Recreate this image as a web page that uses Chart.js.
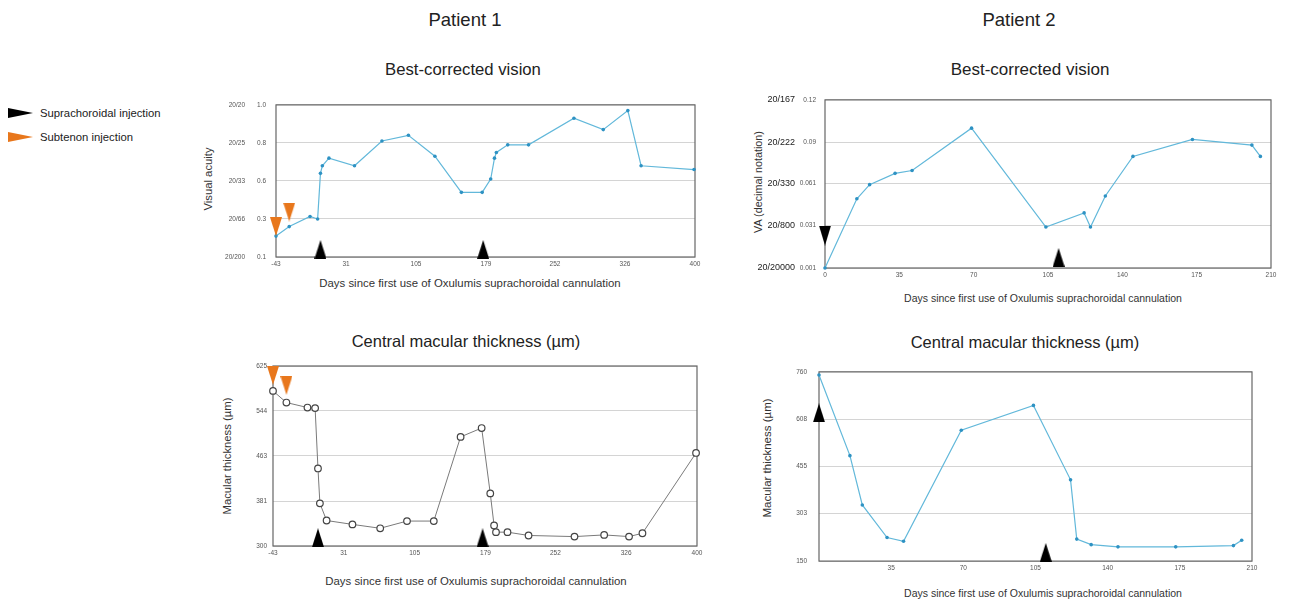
<!DOCTYPE html>
<html lang="en">
<head>
<meta charset="UTF-8">
<title>Visual acuity and macular thickness after suprachoroidal injection</title>
<script src="https://cdn.jsdelivr.net/npm/chart.js"></script>
<style>
  body { margin: 0; background: #fff; font-family: "Liberation Sans", Arial, sans-serif; color: #222; }
  #page { position: relative; width: 1303px; height: 603px; overflow: hidden; }
  .txt { position: absolute; white-space: nowrap; transform: translate(-50%, -50%); }
  .ytitle { position: absolute; white-space: nowrap; transform: translate(-50%, -50%) rotate(-90deg); }
  .legtri { position: absolute; width: 0; height: 0; border-top: 5.5px solid transparent; border-bottom: 5.5px solid transparent; }
  canvas { position: absolute; }
</style>
</head>
<body>
<div id="page">
  <div class="txt" style="left:465px;top:20px;font-size:18.5px">Patient 1</div>
  <div class="txt" style="left:1019px;top:20px;font-size:18.5px">Patient 2</div>

  <div class="txt" style="left:463px;top:70px;font-size:16.7px">Best-corrected vision</div>
  <div class="txt" style="left:1030px;top:70px;font-size:17px">Best-corrected vision</div>
  <div class="txt" style="left:466px;top:341px;font-size:16.5px">Central macular thickness (µm)</div>
  <div class="txt" style="left:1025px;top:342px;font-size:16.5px">Central macular thickness (µm)</div>

  <div class="legtri" style="left:8px;top:108px;border-left:25px solid #000"></div>
  <div class="txt" style="left:40px;top:113px;font-size:11.3px;transform:translateY(-50%)">Suprachoroidal injection</div>
  <div class="legtri" style="left:8px;top:132px;border-left:25px solid #e8771c"></div>
  <div class="txt" style="left:40px;top:137px;font-size:11.3px;transform:translateY(-50%)">Subtenon injection</div>

  <div class="ytitle" style="left:208px;top:179px;font-size:11.3px;color:#333">Visual acuity</div>
  <div class="ytitle" style="left:758px;top:182px;font-size:10.8px;color:#333">VA (decimal notation)</div>
  <div class="ytitle" style="left:227px;top:456px;font-size:11.3px;color:#333">Macular thickness (µm)</div>
  <div class="ytitle" style="left:767px;top:458px;font-size:11.5px;color:#333">Macular thickness (µm)</div>

  <div class="txt" style="left:470px;top:283px;font-size:11.4px;color:#333">Days since first use of Oxulumis suprachoroidal cannulation</div>
  <div class="txt" style="left:1043px;top:298px;font-size:10.5px;color:#333">Days since first use of Oxulumis suprachoroidal cannulation</div>
  <div class="txt" style="left:476px;top:581px;font-size:11.4px;color:#333">Days since first use of Oxulumis suprachoroidal cannulation</div>
  <div class="txt" style="left:1043px;top:593px;font-size:10.5px;color:#333">Days since first use of Oxulumis suprachoroidal cannulation</div>

  <canvas id="p1va" width="479" height="180" style="left:225px;top:91px"></canvas>
  <canvas id="p2va" width="530" height="195" style="left:750px;top:87px"></canvas>
  <canvas id="p1cmt" width="463" height="204" style="left:243px;top:356px"></canvas>
  <canvas id="p2cmt" width="482" height="221" style="left:779px;top:356px"></canvas>
</div>

<script>
// Patient 1 - visit days (shared by both panels)
const p1Days = [-43, -29, -7, 1, 4, 6, 13, 40, 69, 97, 125, 153, 175, 184, 188, 190, 202, 224, 272, 303, 329, 343, 399];
const p1Va = [0.21, 0.26, 0.32, 0.30, 0.64, 0.68, 0.72, 0.68, 0.81, 0.84, 0.73, 0.51, 0.51, 0.61, 0.72, 0.75, 0.79, 0.79, 0.93, 0.87, 0.97, 0.68, 0.66];
const p1Cmt = [580, 559, 550, 549, 440, 377, 346, 339, 332, 345, 345, 497, 513, 395, 337, 325, 325, 319, 317, 320, 317, 323, 468];

// Patient 2
const p2Days = [0, 15, 21, 33, 41, 69, 104, 122, 125, 132, 145, 173, 201, 205];
const p2Va = [0.001, 0.050, 0.060, 0.068, 0.070, 0.100, 0.030, 0.040, 0.030, 0.052, 0.080, 0.092, 0.088, 0.080];
const p2Cmt = [750, 490, 331, 226, 214, 572, 652, 412, 221, 203, 196, 196, 200, 217];

// injection markers (day, level on the panel's axis)
const p1SubtenonDays = [-43, -29];
const p1VaSubtenonAt = [0.26, 0.355];
const p1CmtSubtenonAt = [608, 590];
const p1SupraDays = [4, 176];
const p1VaSupraAt = [0.14, 0.14];
const p1CmtSupraAt = [315, 315];
const p2VaSupraDays = [0, 110];
const p2VaSupraAt = [0.024, 0.0085];
const p2CmtSupraDays = [0, 110];
const p2CmtSupraAt = [628, 178];

// axis ticks
const p1DayTicks = [-43, 31, 105, 179, 252, 326, 400];
const p2DayTicks = [0, 35, 70, 105, 140, 175, 210];
const p2CmtDayTicks = [35, 70, 105, 140, 175, 210];
const p1VaLevels = [0.1, 0.3, 0.6, 0.8, 1.0];
const p1VaDecimal = ['0.1', '0.3', '0.6', '0.8', '1.0'];
const p1VaSnellen = ['20/200', '20/66', '20/33', '20/25', '20/20'];
const p2VaLevels = [0.001, 0.031, 0.061, 0.09, 0.12];
const p2VaDecimal = ['0.001', '0.031', '0.061', '0.09', '0.12'];
const p2VaSnellen = ['20/20000', '20/800', '20/330', '20/222', '20/167'];
const p1CmtTicks = [300, 381, 463, 544, 625];
const p2CmtTicks = [150, 303, 455, 608, 760];

const BLUE = '#62b8da';
const BLUE_DOT = '#2e92c3';
const ORANGE = '#e8771c';

// patient 1 VA axis has evenly spaced acuity steps, so place values between them
function vaPos(v) {
    const L = p1VaLevels;
    for (let i = 0; i < L.length - 1; i++) {
        if (v <= L[i + 1]) return i + (v - L[i]) / (L[i + 1] - L[i]);
    }
    return L.length - 1;
}

// small triangle image used as point style
function tri(w, h, color, down) {
    const c = document.createElement('canvas');
    c.width = w; c.height = h;
    const g = c.getContext('2d');
    g.fillStyle = color;
    g.beginPath();
    if (down) { g.moveTo(0, 0); g.lineTo(w, 0); g.lineTo(w / 2, h); }
    else { g.moveTo(w / 2, 0); g.lineTo(w, h); g.lineTo(0, h); }
    g.closePath();
    g.fill();
    return c;
}

function pts(xs, ys, f) {
    return xs.map((x, i) => ({ x: x, y: f ? f(ys[i]) : ys[i] }));
}

function markers(days, levels, style, f) {
    return { data: pts(days, levels, f), showLine: false, pointStyle: style,
             pointRadius: 8, pointHoverRadius: 8, clip: false };
}

function blueLine(days, vals) {
    return { data: pts(days, vals), borderColor: BLUE, borderWidth: 1.2, tension: 0,
             pointRadius: 1.8, pointBackgroundColor: BLUE_DOT, pointBorderWidth: 0, clip: false };
}

// draws the box around the plot area
const frame = {
    id: 'frame',
    beforeDatasetsDraw(chart) {
        const { ctx, chartArea: a } = chart;
        ctx.save();
        ctx.strokeStyle = '#666';
        ctx.lineWidth = 1.2;
        ctx.strokeRect(a.left, a.top, a.right - a.left, a.bottom - a.top);
        ctx.restore();
    }
};

function makeChart(id, o) {
    const scales = {
        x: {
            type: 'linear', min: o.xMin, max: o.xMax,
            grid: { display: false, drawTicks: false }, border: { display: false },
            afterBuildTicks: s => { s.ticks = o.xTicks.map(v => ({ value: v })); },
            afterFit: s => { s.height = 14; },
            ticks: { font: { size: 6.5 }, color: '#555', padding: 3, maxRotation: 0, autoSkip: false,
                     callback: v => String(v) }
        },
        y: {
            type: 'linear', position: 'left', weight: 0, min: o.yMin, max: o.yMax,
            grid: { color: '#d4d4d4', drawTicks: false }, border: { display: false },
            afterBuildTicks: s => { s.ticks = o.yTicks.map(v => ({ value: v })); },
            afterFit: s => { s.width = o.yWidth; },
            ticks: { font: { size: 6.5 }, color: '#555', padding: o.yPad,
                     callback: (v, i) => o.yLabels ? o.yLabels[i] : String(v) }
        }
    };
    if (o.snLabels) {
        scales.ySn = {
            type: 'linear', position: 'left', weight: 1, min: o.yMin, max: o.yMax,
            grid: { display: false, drawTicks: false }, border: { display: false },
            afterBuildTicks: s => { s.ticks = o.yTicks.map(v => ({ value: v })); },
            afterFit: s => { s.width = o.snWidth; },
            ticks: { font: { size: o.snSize }, color: o.snColor, padding: o.snPad,
                     callback: (v, i) => o.snLabels[i] }
        };
    }
    return new Chart(document.getElementById(id), {
        type: 'line',
        data: { datasets: o.datasets },
        options: {
            responsive: false,
            animation: false,
            layout: { padding: { left: 0, top: 10, right: 8, bottom: 0 } },
            plugins: { legend: { display: false }, tooltip: { enabled: false } },
            scales: scales
        },
        plugins: [frame]
    });
}

const blackUp = tri(12, 19, '#000', false);
const blackDown = tri(12, 20, '#000', true);
const orangeDown = tri(12, 19, ORANGE, true);

// Patient 1 - best-corrected vision
makeChart('p1va', {
    xMin: -43, xMax: 400, xTicks: p1DayTicks,
    yMin: 0, yMax: 4, yTicks: [0, 1, 2, 3, 4], yLabels: p1VaDecimal, yWidth: 26, yPad: 10,
    snLabels: p1VaSnellen, snWidth: 25, snPad: 5, snSize: 6.5, snColor: '#555',
    datasets: [
        markers(p1SubtenonDays, p1VaSubtenonAt, orangeDown, vaPos),
        markers(p1SupraDays, p1VaSupraAt, blackUp, vaPos),
        { data: pts(p1Days, p1Va, vaPos), borderColor: BLUE, borderWidth: 1.2, tension: 0,
          pointRadius: 1.8, pointBackgroundColor: BLUE_DOT, pointBorderWidth: 0, clip: false }
    ]
});

// Patient 2 - best-corrected vision
makeChart('p2va', {
    xMin: 0, xMax: 210, xTicks: p2DayTicks,
    yMin: 0.001, yMax: 0.12, yTicks: p2VaLevels, yLabels: p2VaDecimal, yWidth: 28, yPad: 9,
    snLabels: p2VaSnellen, snWidth: 47, snPad: 2, snSize: 9, snColor: '#222',
    datasets: [
        markers([p2VaSupraDays[0]], [p2VaSupraAt[0]], blackDown),
        markers([p2VaSupraDays[1]], [p2VaSupraAt[1]], blackUp),
        blueLine(p2Days, p2Va)
    ]
});

// Patient 1 - central macular thickness
makeChart('p1cmt', {
    xMin: -43, xMax: 400, xTicks: p1DayTicks,
    yMin: 300, yMax: 625, yTicks: p1CmtTicks, yWidth: 30, yPad: 6,
    datasets: [
        markers(p1SubtenonDays, p1CmtSubtenonAt, orangeDown),
        markers(p1SupraDays, p1CmtSupraAt, blackUp),
        { data: pts(p1Days, p1Cmt), borderColor: '#7a7a7a', borderWidth: 1, tension: 0,
          pointRadius: 3.3, pointBackgroundColor: '#fff', pointBorderColor: '#444',
          pointBorderWidth: 1.2, clip: false }
    ]
});

// Patient 2 - central macular thickness
makeChart('p2cmt', {
    xMin: 0, xMax: 210, xTicks: p2CmtDayTicks,
    yMin: 150, yMax: 760, yTicks: p2CmtTicks, yWidth: 40, yPad: 12,
    datasets: [
        markers(p2CmtSupraDays, p2CmtSupraAt, blackUp),
        blueLine(p2Days, p2Cmt)
    ]
});
</script>
</body>
</html>
